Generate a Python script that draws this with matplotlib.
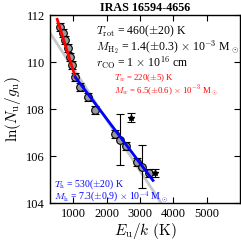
import numpy as np
import matplotlib
matplotlib.use('Agg')
import matplotlib.pyplot as plt

plt.rcParams['font.family'] = ['Liberation Serif', 'DejaVu Serif']
plt.rcParams['mathtext.fontset'] = 'cm'

# datapisteet (luettu kuvasta)
eu = [612, 701, 761, 851, 910, 970, 1060, 1209, 1448, 1657, 2254, 2400, 2582, 2910, 3060, 3269]
lnn = [111.49, 111.23, 110.94, 110.60, 110.21, 109.87, 109.36, 108.94, 108.51, 107.96,
       106.94, 106.70, 106.43, 105.74, 105.55, 105.28]
err = [0.17, 0.17, 0.17, 0.17, 0.17, 0.17, 0.17, 0.17, 0.17, 0.17,
       0.17, 1.07, 0.17, 0.17, 0.92, 0.17]

# pois jätetyt pisteet
eu_x = [2731, 3448]
lnn_x = [107.62, 105.28]
err_x = [0.19, 0.17]

# sovitukset: T ja vakiotermi
t_rot, a_rot = 460, 111.9
t_w, a_w, range_w = 220, 114.18, (520, 1060)
t_h, a_h, range_h = 530, 111.36, (1060, 3390)

fig = plt.figure(figsize=(2.41, 2.42), dpi=100)
ax = fig.add_axes([0.207, 0.161, 0.789, 0.777])

xg = np.array([300, 6000])
ax.plot(xg, a_rot - xg / t_rot, color='#c8c8c8', lw=2, zorder=1)

ax.errorbar(eu, lnn, yerr=err, fmt='o', mfc='#999999', mec='black', mew=0.8, ms=5.5,
            ecolor='black', elinewidth=0.8, capsize=3, capthick=0.8, zorder=2)
ax.errorbar(eu_x, lnn_x, yerr=err_x, fmt='*', mfc='black', mec='black', ms=4,
            ecolor='black', elinewidth=0.8, capsize=3, capthick=0.8, zorder=2)

xw = np.array(range_w)
ax.plot(xw, a_w - xw / t_w, color='red', lw=2, zorder=3)
xh = np.array(range_h)
ax.plot(xh, a_h - xh / t_h, color='blue', lw=2, zorder=3)

ax.set_xlim(300, 6000)
ax.set_ylim(104, 112)
ax.set_xticks([1000, 2000, 3000, 4000, 5000])
ax.set_yticks([104, 106, 108, 110, 112])
ax.tick_params(direction='in', top=True, right=True, labelsize=9, length=4, width=0.8)
for s in ax.spines.values():
    s.set_linewidth(1.0)

ax.set_xlabel(r'$E_{\rm u}/k\ ({\rm K})$', fontsize=11, labelpad=1)
ax.set_ylabel(r'$\ln(N_{\rm u}/g_{\rm u})$', fontsize=11, labelpad=2)
ax.set_title('IRAS 16594-4656', fontsize=8.7, fontweight='bold', pad=3)

ax.text(0.24, 0.912, r'$T_{\rm rot}$ = 460($\pm$20) K', transform=ax.transAxes,
        fontsize=8.5, va='center')
ax.text(0.24, 0.828, r'$M_{\rm H_2}$ = 1.4($\pm$0.3) $\times$ 10$^{-3}$ M$_\odot$',
        transform=ax.transAxes, fontsize=8.5, va='center')
ax.text(0.24, 0.748, r'$r_{\rm CO}$ = 1 $\times$ 10$^{16}$ cm', transform=ax.transAxes,
        fontsize=8.5, va='center')
ax.text(0.335, 0.662, r'$T_w$ = 220($\pm$5) K', transform=ax.transAxes,
        fontsize=6.3, va='center', color='red')
ax.text(0.335, 0.594, r'$M_w$ = 6.5($\pm$0.6) $\times$ 10$^{-3}$ M$_\odot$',
        transform=ax.transAxes, fontsize=6.3, va='center', color='red')
ax.text(0.02, 0.1, r'$T_{\rm h}$ = 530($\pm$20) K', transform=ax.transAxes,
        fontsize=7, va='center', color='blue')
ax.text(0.02, 0.032, r'$M_{\rm h}$ = 7.3($\pm$0.9) $\times$ 10$^{-4}$ M$_\odot$',
        transform=ax.transAxes, fontsize=7, va='center', color='blue')

fig.savefig('out.png', dpi=100)
